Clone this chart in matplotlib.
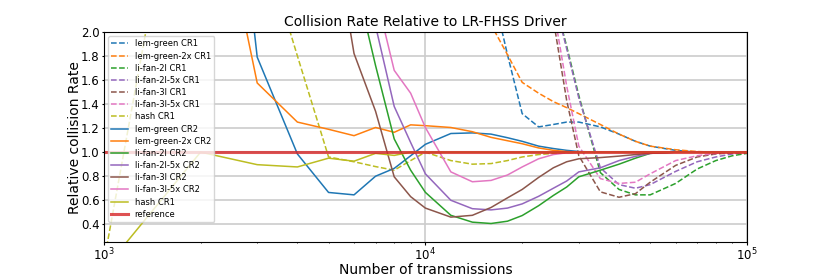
import numpy as np
import matplotlib.pyplot as plt
from matplotlib.ticker import MultipleLocator

# nombre de transmissions (axe x)
n_tx = [1000, 2000, 3000, 4000, 5000, 6000, 7000, 8000, 9000, 10000,
        12000, 14000, 16000, 18000, 20000, 22500, 25000, 27500, 30000,
        35000, 40000, 45000, 50000, 60000, 70000, 80000, 90000, 100000]

# taux de collision relatifs, CR1
lem_green_cr1 = [40, 35, 30, 26, 22, 18, 15, 12, 10, 8, 5.5, 3.8, 2.4, 1.81,
                 1.32, 1.21, 1.23, 1.25, 1.25, 1.21, 1.15, 1.09, 1.05, 1.015,
                 1.0, 1.0, 1.0, 1.0]
lem_green_2x_cr1 = [30, 26, 22, 18, 15, 12, 10, 8, 6.5, 5, 4, 2.9, 2.06, 1.81,
                    1.58, 1.49, 1.42, 1.37, 1.32, 1.23, 1.15, 1.09, 1.05, 1.02,
                    1.005, 1.0, 1.0, 1.0]
li_fan_2l_cr1 = [60, 55, 50, 45, 40, 35, 30, 26, 22, 18, 14, 11, 8, 6, 4.5,
                 3.2, 2.3, 1.88, 1.47, 0.83, 0.69, 0.645, 0.645, 0.74, 0.86,
                 0.93, 0.97, 0.99]
li_fan_2l_5x_cr1 = [60, 55, 50, 45, 40, 35, 30, 26, 22, 18, 14, 11, 8, 6, 4.5,
                    3.2, 2.3, 1.86, 1.45, 0.87, 0.73, 0.70, 0.73, 0.84, 0.92,
                    0.96, 0.985, 1.0]
li_fan_3l_cr1 = [60, 55, 50, 45, 40, 35, 30, 26, 22, 18, 14, 11, 8, 6, 4.5,
                 3.0, 2.1, 1.43, 0.97, 0.67, 0.625, 0.655, 0.75, 0.89, 0.96,
                 0.985, 0.995, 1.0]
li_fan_3l_5x_cr1 = [60, 55, 50, 45, 40, 35, 30, 26, 22, 18, 14, 11, 8, 6, 4.5,
                    3.1, 2.2, 1.55, 1.05, 0.78, 0.74, 0.75, 0.82, 0.93, 0.97,
                    0.99, 1.0, 1.0]
hash_cr1_dash = [0.08, 4.5, 2.9, 1.8, 0.96, 0.92, 0.88, 0.85, 0.93, 1.0,
                 0.93, 0.90, 0.905, 0.93, 0.96, 0.98, 0.99, 0.995, 1.0, 1.0,
                 1.0, 1.0, 1.0, 1.0, 1.0, 1.0, 1.0, 1.0]

# taux de collision relatifs, CR2
lem_green_cr2 = [10, 6.0, 1.79, 0.985, 0.665, 0.645, 0.80, 0.865, 0.97, 1.065,
                 1.155, 1.16, 1.15, 1.12, 1.09, 1.05, 1.03, 1.015, 1.005, 1.0,
                 1.0, 1.0, 1.0, 1.0, 1.0, 1.0, 1.0, 1.0]
lem_green_2x_cr2 = [8, 3.85, 1.575, 1.25, 1.19, 1.137, 1.205, 1.165, 1.227, 1.22,
                    1.205, 1.17, 1.123, 1.095, 1.07, 1.035, 1.015, 1.005, 1.0,
                    1.0, 1.0, 1.0, 1.0, 1.0, 1.0, 1.0, 1.0, 1.0]
li_fan_2l_cr2 = [30, 20, 12, 7, 4, 2.48, 1.72, 1.11, 0.85, 0.666, 0.475, 0.418,
                 0.407, 0.426, 0.473, 0.555, 0.64, 0.71, 0.795, 0.85, 0.90,
                 0.95, 0.99, 1.0, 1.0, 1.0, 1.0, 1.0]
li_fan_2l_5x_cr2 = [30, 20, 12, 7, 4.5, 3.0, 2.05, 1.38, 1.08, 0.82, 0.60, 0.53,
                    0.52, 0.535, 0.57, 0.633, 0.70, 0.76, 0.836, 0.87, 0.93,
                    0.965, 0.99, 1.0, 1.0, 1.0, 1.0, 1.0]
li_fan_3l_cr2 = [20, 12, 7, 4.5, 3.09, 1.82, 1.34, 0.795, 0.63, 0.535, 0.46,
                 0.475, 0.54, 0.62, 0.69, 0.79, 0.87, 0.92, 0.945, 0.955, 0.967,
                 0.98, 0.99, 1.0, 1.0, 1.0, 1.0, 1.0]
li_fan_3l_5x_cr2 = [30, 20, 12, 7, 4.5, 3.2, 2.32, 1.68, 1.49, 1.205, 0.836,
                    0.754, 0.765, 0.81, 0.877, 0.945, 0.98, 0.995, 1.0, 1.0,
                    1.0, 1.0, 1.0, 1.0, 1.0, 1.0, 1.0, 1.0]
hash_cr1_solid = [0.02, 1.0, 0.896, 0.877, 0.95, 0.925, 0.99, 0.973, 1.0, 1.0,
                  1.0, 1.0, 1.0, 1.0, 1.0, 1.0, 1.0, 1.0, 1.0, 1.0, 1.0, 1.0,
                  1.0, 1.0, 1.0, 1.0, 1.0, 1.0]

reference = [1.0] * len(n_tx)

fig, ax = plt.subplots(figsize=(8.3, 2.77), dpi=100)
fig.subplots_adjust(left=0.125, right=0.9, top=0.885, bottom=0.125)

lw = 1.1
ax.plot(n_tx, lem_green_cr1, '--', color='C0', lw=lw, label='lem-green CR1')
ax.plot(n_tx, lem_green_2x_cr1, '--', color='C1', lw=lw, label='lem-green-2x CR1')
ax.plot(n_tx, li_fan_2l_cr1, '--', color='C2', lw=lw, label='li-fan-2l CR1')
ax.plot(n_tx, li_fan_2l_5x_cr1, '--', color='C4', lw=lw, label='li-fan-2l-5x CR1')
ax.plot(n_tx, li_fan_3l_cr1, '--', color='C5', lw=lw, label='li-fan-3l CR1')
ax.plot(n_tx, li_fan_3l_5x_cr1, '--', color='C6', lw=lw, label='li-fan-3l-5x CR1')
ax.plot(n_tx, hash_cr1_dash, '--', color='C8', lw=lw, label='hash CR1')
ax.plot(n_tx, lem_green_cr2, color='C0', lw=lw, label='lem-green CR2')
ax.plot(n_tx, lem_green_2x_cr2, color='C1', lw=lw, label='lem-green-2x CR2')
ax.plot(n_tx, li_fan_2l_cr2, color='C2', lw=lw, label='li-fan-2l CR2')
ax.plot(n_tx, li_fan_2l_5x_cr2, color='C4', lw=lw, label='li-fan-2l-5x CR2')
ax.plot(n_tx, li_fan_3l_cr2, color='C5', lw=lw, label='li-fan-3l CR2')
ax.plot(n_tx, li_fan_3l_5x_cr2, color='C6', lw=lw, label='li-fan-3l-5x CR2')
ax.plot(n_tx, hash_cr1_solid, color='C8', lw=lw, label='hash CR1')
ax.plot(n_tx, reference, color='C3', lw=2.2, alpha=0.8, label='reference')

ax.set_xscale('log')
ax.set_xlim(1e3, 1e5)
ax.set_ylim(0.25, 2.0)
ax.yaxis.set_major_locator(MultipleLocator(0.2))
ax.grid(True, color='#cccccc', lw=1.2)
ax.set_axisbelow(True)

ax.set_title('Collision Rate Relative to LR-FHSS Driver', fontsize=10, pad=4)
ax.set_xlabel('Number of transmissions', fontsize=10, labelpad=0)
ax.set_ylabel('Relative collision Rate', fontsize=10, labelpad=-1)
ax.tick_params(labelsize=8.5, length=1.8, pad=1.2)
ax.tick_params(which='minor', length=1.0)
ax.legend(loc='upper left', fontsize=6, labelspacing=0.38)

plt.savefig('out.png', dpi=100)
